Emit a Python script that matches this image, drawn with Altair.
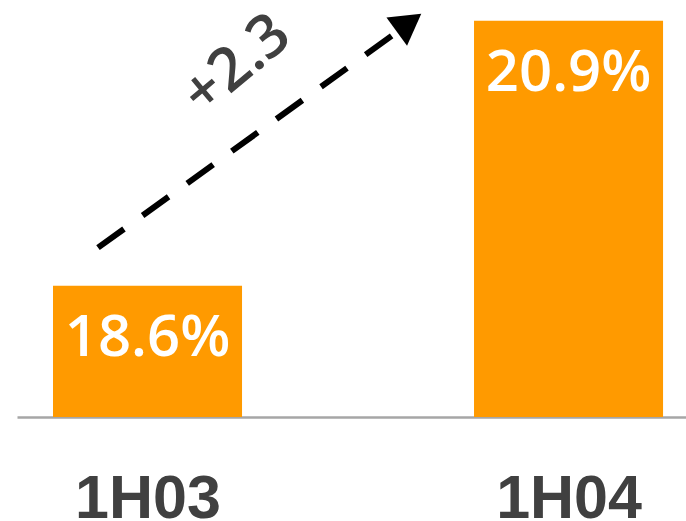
import altair as alt
import pandas as pd

# Half-year share figures
categories = ["1H03", "1H04"]
shares = [18.6, 20.9]
share_labels = ["18.6%", "20.9%"]
change_label = "+2.3"

# Value axis window (the bars start from a truncated baseline)
Y_MIN, Y_MAX = 17.46, 21.08
HALF_BAR = 0.2245  # half bar width in category-index units

BAR_COLOR = "#FF9A00"
TEXT_DARK = "#404040"
FONT = "Open Sans"

bars_df = pd.DataFrame({
    "cat": categories,
    "share": shares,
    "label": share_labels,
    "pos": list(range(len(categories))),
})

# Trend arrow: dashed shaft plus a triangular head (category-index / value units)
arrow_shaft = pd.DataFrame({"px": [-0.1176, 0.588], "vy": [18.93, 20.79], "o": [0, 1]})
arrow_head = pd.DataFrame({"px": [0.6211], "vy": [20.883]})
change_df = pd.DataFrame({"px": [0.2126], "vy": [20.516], "label": [change_label]})

x_scale = alt.Scale(domain=[-0.31, 1.279], nice=False, zero=False)
y_scale = alt.Scale(domain=[Y_MIN, Y_MAX], nice=False, zero=False)

label_expr = "[" + ",".join(f"'{c}'" for c in categories) + "][datum.value]"

x_axis = alt.Axis(
    values=list(range(len(categories))),
    labelExpr=label_expr,
    title=None,
    ticks=False,
    tickSize=0,
    grid=False,
    domainColor="#A6A6A6",
    domainWidth=2.5,
    labelFont="Liberation Sans",
    labelFontWeight="bold",
    labelFontSize=61,
    labelColor=TEXT_DARK,
    labelBaseline="alphabetic",
    labelPadding=100,
    labelFlush=False,
)

base = alt.Chart(bars_df).transform_calculate(
    x0=f"datum.pos - {HALF_BAR}",
    x1=f"datum.pos + {HALF_BAR}",
    base=f"{Y_MIN}",
)

bars = base.mark_bar(color=BAR_COLOR).encode(
    x=alt.X("x0:Q", scale=x_scale, axis=x_axis),
    x2="x1:Q",
    y=alt.Y("share:Q", scale=y_scale, axis=None),
    y2="base:Q",
)

bar_text = alt.Chart(bars_df).mark_text(
    font=FONT, fontWeight=600, fontSize=58, color="white",
    align="center", baseline="alphabetic", dy=70,
).encode(
    x=alt.X("pos:Q", scale=x_scale),
    y=alt.Y("share:Q", scale=y_scale),
    text="label:N",
)

shaft = alt.Chart(arrow_shaft).mark_line(
    color="black", strokeWidth=6, strokeDash=[32, 23], strokeCap="butt",
).encode(
    x=alt.X("px:Q", scale=x_scale),
    y=alt.Y("vy:Q", scale=y_scale),
    order="o:Q",
)

head = alt.Chart(arrow_head).mark_point(
    shape="triangle-up", filled=True, size=1225, angle=54,
    color="black", opacity=1, strokeWidth=0,
).encode(
    x=alt.X("px:Q", scale=x_scale),
    y=alt.Y("vy:Q", scale=y_scale),
)

change_text = alt.Chart(change_df).mark_text(
    font=FONT, fontWeight=600, fontSize=60, color=TEXT_DARK,
    align="center", baseline="middle", angle=320,
).encode(
    x=alt.X("px:Q", scale=x_scale),
    y=alt.Y("vy:Q", scale=y_scale),
    text="label:N",
)

chart = alt.layer(bars, bar_text, shaft, head, change_text).properties(
    width=669,
    height=417,
    padding={"left": 17, "top": 0, "right": 0, "bottom": 104},
    autosize=alt.AutoSizeParams(type="none"),
    background="white",
).configure_view(stroke=None)

chart.save("out.html", embed_options={"renderer": "svg", "actions": False})
